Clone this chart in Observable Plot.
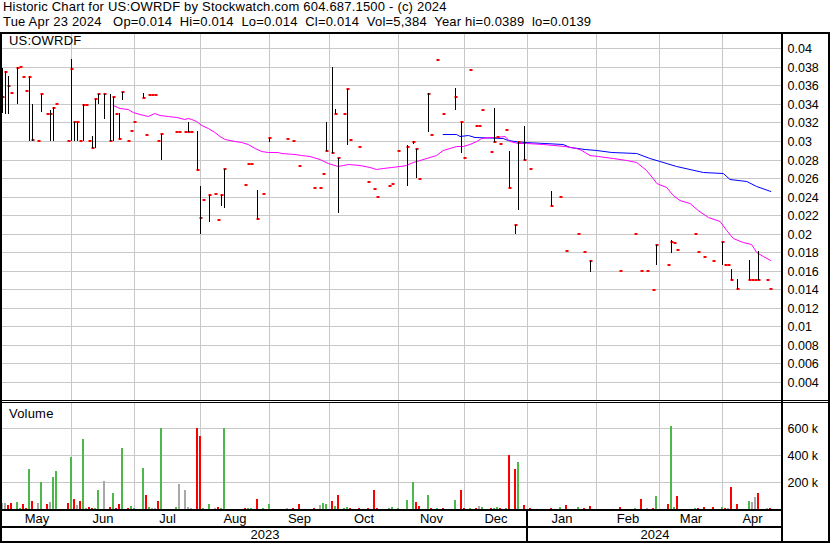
<!DOCTYPE html>
<html><head><meta charset="utf-8">
<script src="https://cdn.jsdelivr.net/npm/d3@7"></script>
<script src="https://cdn.jsdelivr.net/npm/@observablehq/plot@0.6"></script>
<style>
body{margin:0;background:#fff;}
#chart{position:relative;width:830px;height:543px;overflow:hidden;font-family:"Liberation Sans",Arial,sans-serif;color:#000;background:#fff;}
.pane{position:absolute;left:0;width:830px;}
.pane svg{display:block;}
.ln{position:absolute;background:#000;}
.txt{position:absolute;font-size:13px;line-height:13px;white-space:pre;letter-spacing:0.2px;}
</style></head><body><div id="chart"></div>
<script>
// ---------- texts ----------
const titleText = "Historic Chart for US:OWRDF by Stockwatch.com 604.687.1500 - (c) 2024";
const subtitleText = "Tue Apr 23 2024   Op=0.014  Hi=0.014  Lo=0.014  Cl=0.014  Vol=5,384  Year hi=0.0389  lo=0.0139";
const symbolText = "US:OWRDF";
const volumeText = "Volume";

// ---------- calendar (trading-day index) ----------
const xDomain = [0, 260];
const monthNames = ["May","Jun","Jul","Aug","Sep","Oct","Nov","Dec","Jan","Feb","Mar","Apr"];
const monthFirstDay = [23, 44, 66, 89, 109, 132, 154, 175, 198, 219, 240]; // Jun .. Apr
const yearNames = ["2023", "2024"];
const yearFirstDay = [0, 175];

// ---------- ticks ----------
const priceTicks = [0.004,0.006,0.008,0.01,0.012,0.014,0.016,0.018,0.02,0.022,0.024,0.026,0.028,0.03,0.032,0.034,0.036,0.038,0.04];
const volumeTicks = [200000, 400000, 600000];

// ---------- daily bars ----------
const tradeDay = [
  0,1,2,3,5,6,7,8,9,10,
  12,13,15,16,17,18,22,23,24,25,
  26,27,28,29,30,31,32,34,36,37,
  38,39,40,42,43,44,47,48,49,50,
  51,52,53,58,59,61,62,63,65,66,
  67,69,71,72,73,74,81,82,83,85,
  87,89,95,97,99,104,106,107,108,110,
  111,112,114,115,116,119,122,124,125,129,
  130,132,135,137,138,139,142,143,145,147,
  151,153,154,156,158,159,160,163,164,165,
  166,168,169,171,172,174,176,183,186,188,
  192,194,196,206,211,213,215,217,218,222,
  223,224,225,231,232,234,237,240,241,242,
  243,245,249,250,251,252,255,256];
const high = [
  .0379,.0376,.0370,.0352,.0380,.0380,.0369,.0354,.0370,.0340,
  .0300,.0351,.0329,.0333,.0337,.0340,.0300,.0389,.0320,.0320,
  .0300,.0340,.0339,.0300,.0305,.0345,.0351,.0351,.0351,.0347,
  .0329,.0330,.0353,.0300,.0311,.0320,.0352,.0306,.0350,.0350,
  .0350,.0300,.0308,.0310,.0310,.0310,.0320,.0310,.0311,.0251,
  .0236,.0242,.0243,.0215,.0242,.0270,.0252,.0275,.0275,.0247,
  .0243,.0303,.0302,.0300,.0273,.0249,.0249,.0264,.0320,.0380,
  .0335,.0282,.0329,.0356,.0301,.0294,.0256,.0248,.0240,.0251,
  .0254,.0289,.0296,.0300,.0291,.0259,.0352,.0307,.0387,.0329,
  .0357,.0320,.0282,.0377,.0316,.0316,.0334,.0288,.0336,.0304,
  .0297,.0312,.0289,.0209,.0299,.0316,.0270,.0246,.0240,.0181,
  .0200,.0180,.0170,.0160,.0200,.0160,.0160,.0139,.0188,.0166,
  .0193,.0190,.0182,.0200,.0180,.0175,.0170,.0191,.0166,.0166,
  .0162,.0151,.0171,.0150,.0150,.0181,.0150,.0140];
const low = [
  .0330,.0329,.0329,.0352,.0340,.0380,.0369,.0354,.0300,.0300,
  .0300,.0331,.0329,.0300,.0300,.0340,.0300,.0300,.0300,.0300,
  .0300,.0300,.0339,.0300,.0292,.0292,.0340,.0324,.0300,.0300,
  .0329,.0302,.0344,.0300,.0311,.0320,.0346,.0306,.0350,.0350,
  .0350,.0300,.0280,.0310,.0310,.0310,.0310,.0310,.0269,.0200,
  .0236,.0212,.0243,.0215,.0230,.0228,.0252,.0275,.0275,.0216,
  .0243,.0299,.0302,.0300,.0273,.0249,.0249,.0264,.0289,.0287,
  .0329,.0222,.0329,.0296,.0301,.0294,.0256,.0248,.0240,.0251,
  .0254,.0289,.0251,.0297,.0260,.0259,.0310,.0307,.0387,.0329,
  .0334,.0287,.0282,.0377,.0316,.0316,.0334,.0288,.0299,.0304,
  .0297,.0312,.0249,.0200,.0225,.0279,.0270,.0230,.0240,.0181,
  .0200,.0180,.0158,.0160,.0200,.0160,.0160,.0139,.0166,.0166,
  .0179,.0190,.0182,.0200,.0180,.0175,.0170,.0166,.0166,.0166,
  .0150,.0140,.0150,.0150,.0150,.0150,.0150,.0140];
const close = [
  .0347,.0375,.0359,.0352,.0379,.0380,.0369,.0354,.0369,.0301,
  .0300,.0351,.0329,.0329,.0336,.0340,.0300,.0378,.0320,.0320,
  .0300,.0339,.0339,.0300,.0292,.0345,.0351,.0351,.0300,.0347,
  .0329,.0302,.0353,.0300,.0311,.0320,.0346,.0306,.0350,.0350,
  .0350,.0300,.0308,.0310,.0310,.0310,.0310,.0310,.0269,.0217,
  .0236,.0242,.0243,.0215,.0242,.0270,.0252,.0275,.0275,.0216,
  .0243,.0303,.0302,.0300,.0273,.0249,.0249,.0264,.0289,.0287,
  .0329,.0282,.0329,.0356,.0301,.0294,.0256,.0248,.0240,.0251,
  .0254,.0289,.0294,.0299,.0291,.0259,.0351,.0307,.0387,.0329,
  .0348,.0320,.0282,.0377,.0316,.0316,.0334,.0288,.0299,.0304,
  .0297,.0312,.0249,.0209,.0299,.0279,.0270,.0230,.0240,.0181,
  .0200,.0180,.0170,.0160,.0200,.0160,.0160,.0139,.0188,.0166,
  .0191,.0190,.0182,.0200,.0180,.0175,.0170,.0191,.0166,.0166,
  .0150,.0140,.0150,.0150,.0150,.0150,.0150,.0140];
const volumeK = [
  42,42,30,42,50,5,35,10,297,59,
  42,201,35,50,238,283,45,387,74,30,
  59,520,10,15,7,7,141,208,15,119,
  7,37,454,7,22,7,305,104,15,7,
  7,59,600,15,186,141,15,7,600,543,
  7,37,7,15,7,600,7,7,7,74,
  7,37,7,7,37,7,30,45,37,59,
  22,104,7,15,7,7,7,141,7,7,
  15,7,67,201,52,22,104,7,7,7,
  67,141,7,7,7,22,15,7,7,15,
  7,7,401,297,349,30,7,7,15,30,
  15,7,22,15,7,74,7,7,97,37,
  617,15,97,7,7,15,15,15,7,7,
  164,37,59,52,89,119,7,5];
const volumeDir = [
  "f","f","d","d","u","u","d","d","u","d",
  "f","u","d","f","u","u","d","u","d","f",
  "d","u","f","d","d","u","u","f","d","u",
  "d","d","u","d","u","u","u","d","u","f",
  "f","d","u","u","f","f","f","f","d","d",
  "u","u","f","d","u","u","d","u","u","d",
  "u","u","f","d","d","d","f","u","u","d",
  "u","d","u","u","d","d","d","d","d","u",
  "u","u","u","u","d","d","u","d","u","d",
  "u","d","d","u","d","f","u","d","u","u",
  "d","u","d","d","u","d","d","d","u","d",
  "u","d","d","d","u","d","f","d","u","d",
  "u","u","d","u","d","d","d","u","d","f",
  "d","d","u","f","f","d","f","d"];

// ---------- moving averages ----------
const maShortDay = [36.9,39.2,41.9,43.6,45.8,48.6,50.8,52.5,55.3,58.1,60.8,61.9,63.1,64.7,66.4,68.6,70.8,72.5,74.2,77.5,79.7,81.9,84.2,86.4,88.6,91.9,93.1,97.5,99.7,102.5,105.8,108.6,111.9,113.6,115.3,119.2,122.5,124.7,126.9,129.7,132.5,134.7,136.9,139.2,142.5,144.7,146.9,149.2,151.4,153.6,155.8,158.1,159.7,162.5,164.7,167.5,169.2,171.9,174.7,180.3,187.5,191.4,193.1,195.8,198.6,203.6,208.1,211.4,214.7,216.9,218.1,221.4,223.6,225.8,229.2,231.9,235.3,239.2,241.4,243.6,246.9,249.7,251.4,253.6,256.1];
const maShortValue = [.03385,.03360,.03342,.03310,.03292,.03270,.03299,.03281,.03267,.03259,.03241,.03252,.03234,.03213,.03170,.03137,.03100,.03054,.03018,.03003,.02992,.02967,.02924,.02889,.02878,.02878,.02867,.02863,.02849,.02838,.02809,.02766,.02727,.02737,.02755,.02744,.02722,.02697,.02705,.02716,.02727,.02744,.02773,.02795,.02824,.02849,.02903,.02928,.02943,.02946,.02964,.03000,.03032,.03040,.03046,.03054,.02997,.02975,.02975,.02964,.02946,.02928,.02903,.02849,.02835,.02813,.02795,.02770,.02687,.02597,.02543,.02500,.02417,.02363,.02327,.02255,.02182,.02139,.02039,.01949,.01912,.01887,.01804,.01758,.01714];
const maLongDay = [146.9,151.4,152.5,155.3,157.5,166.9,168.6,170.8,174.2,180.8,186.9,189.2,194.2,198.1,203.1,211.4,215.8,219.2,224.7,233.6,240.3,242.5,248.1,251.4,256.1];
const maLongValue = [.03072,.03072,.03057,.03065,.03046,.03029,.03011,.02997,.02989,.02975,.02964,.02938,.02910,.02903,.02881,.02867,.02813,.02784,.02733,.02662,.02651,.02590,.02568,.02514,.02463];

// ---------- colours ----------
const gridColor = "#c8c8c8";
const upColor = "#4db84a", downColor = "#ff0000", flatColor = "#a8a8a8";

// ---------- build tables ----------
const bars = tradeDay.map((d, i) => ({day: d, high: high[i], low: low[i], close: close[i], volume: volumeK[i] * 1000, dir: volumeDir[i]}));
const maShort = maShortDay.map((d, i) => ({day: d, value: maShortValue[i]}));
const maLong = maLongDay.map((d, i) => ({day: d, value: maLongValue[i]}));
const monthBounds = [xDomain[0], ...monthFirstDay, xDomain[1]];
const monthLabels = monthNames.map((m, k) => ({name: m, mid: (monthBounds[k] + monthBounds[k + 1]) / 2}));
const yearBounds = [...yearFirstDay, xDomain[1]];
const yearLabels = yearNames.map((y, k) => ({name: y, mid: (yearBounds[k] + yearBounds[k + 1]) / 2}));

const baseStyle = {fontFamily: '"Liberation Sans", Arial, sans-serif', fontSize: "12.5px", color: "#000", background: "transparent", overflow: "visible"};
const common = {width: 830, marginLeft: 2, marginRight: 48, style: baseStyle, x: {domain: xDomain, axis: null}};

const pricePlot = Plot.plot({
  ...common, height: 368, marginTop: 0, marginBottom: 0,
  y: {domain: [0.001918, 0.041663], round: true, axis: null, label: null},
  marks: [
    Plot.ruleY(priceTicks, {stroke: gridColor}),
    Plot.ruleX(monthFirstDay, {stroke: gridColor}),
    Plot.axisY(priceTicks, {anchor: "right", tickSize: 0, tickPadding: 5, label: null, tickFormat: d => String(+d.toFixed(3))}),
    Plot.line(maLong, {x: "day", y: "value", stroke: "#0000ff", strokeWidth: 1}),
    Plot.line(maShort, {x: "day", y: "value", stroke: "#ff00ff", strokeWidth: 1}),
    Plot.ruleY(bars, {x1: "day", x2: d => d.day + 1, y: "close", stroke: "#ff0000", strokeWidth: 2, dx: -0.5, dy: -0.5}),
    Plot.ruleX(bars.filter(d => d.high > d.low), {x: "day", y1: "low", y2: "high", stroke: "#000", strokeWidth: 1})
  ]
});

const volumePlot = Plot.plot({
  ...common, height: 108, marginTop: 1, marginBottom: 1,
  y: {domain: [0, 788000], round: true, axis: null, label: null},
  color: {domain: ["u", "d", "f"], range: [upColor, downColor, flatColor]},
  marks: [
    Plot.ruleY(volumeTicks, {stroke: gridColor}),
    Plot.ruleX(monthFirstDay, {stroke: gridColor}),
    Plot.axisY(volumeTicks, {anchor: "right", tickSize: 0, tickPadding: 5, label: null, tickFormat: d => (d / 1000) + " k"}),
    Plot.ruleX(bars, {x: "day", y1: 0, y2: "volume", stroke: "dir", strokeWidth: 2, dx: -0.5})
  ]
});

const datePlot = Plot.plot({
  ...common, height: 33, marginTop: 0, marginBottom: 0,
  marks: [
    Plot.ruleX([yearFirstDay[1]], {stroke: "#000", strokeWidth: 2, dx: -0.5}),
    Plot.text(monthLabels, {x: "mid", text: "name", frameAnchor: "top", lineAnchor: "middle", dy: 8.5, fontSize: 13, fill: "#000"}),
    Plot.text(yearLabels, {x: "mid", text: "name", frameAnchor: "bottom", lineAnchor: "middle", dy: -8.5, fontSize: 13, fill: "#000"})
  ]
});

const root = document.getElementById("chart");
function pane(node, top) { const d = document.createElement("div"); d.className = "pane"; d.style.top = top + "px"; d.appendChild(node); root.appendChild(d); }
pane(pricePlot, 33);
pane(volumePlot, 402);
pane(datePlot, 510);

function line(l, t, w, h) { const d = document.createElement("div"); d.className = "ln"; Object.assign(d.style, {left: l + "px", top: t + "px", width: w + "px", height: h + "px"}); root.appendChild(d); }
function text(s, l, t) { const d = document.createElement("div"); d.className = "txt"; d.textContent = s; d.style.left = l + "px"; d.style.top = t + "px"; root.appendChild(d); }

// frame
line(0, 32, 830, 2);     // top
line(0, 32, 2, 511);     // left
line(781, 32, 2, 511);   // right of plot
line(828, 32, 2, 511);   // outer right
line(0, 400, 830, 1);    // price bottom
line(0, 402, 830, 1);    // volume top
line(0, 509, 783, 2);    // volume bottom
line(0, 526, 783, 2);    // month row bottom
line(0, 541, 830, 2);    // bottom

text(titleText, 3, 0);
text(subtitleText, 3, 15);
text(symbolText, 9, 34);
text(volumeText, 9, 407);
</script></body></html>
